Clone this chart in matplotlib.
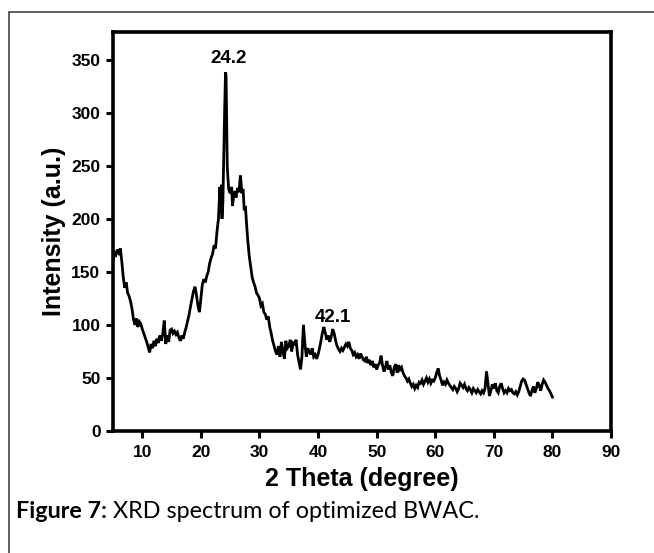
import matplotlib
matplotlib.use("Agg")
import matplotlib.pyplot as plt
from matplotlib.patches import Rectangle

two_theta = [
    5.0, 5.25, 5.5, 5.75, 6.0, 6.25, 6.5, 6.75, 7.0, 7.25, 7.5, 7.75, 8.0, 8.25, 8.5, 8.75,
    9.0, 9.25, 9.5, 9.75, 10.0, 10.25, 10.5, 10.75, 11.0, 11.25, 11.5, 11.75, 12.0, 12.25,
    12.5, 12.75, 13.0, 13.25, 13.5, 13.75, 14.0, 14.25, 14.5, 14.75, 15.0, 15.25, 15.5, 15.75,
    16.0, 16.25, 16.5, 16.75, 17.0, 17.25, 17.5, 17.75, 18.0, 18.25, 18.5, 18.75, 19.0, 19.25,
    19.5, 19.75, 20.0, 20.25, 20.5, 20.75, 21.0, 21.25, 21.5, 21.75, 22.0, 22.25, 22.5, 22.75,
    23.0, 23.25, 23.4, 23.5, 23.6, 23.75, 23.9, 24.05, 24.2, 24.3, 24.4, 24.5, 24.6, 24.75,
    25.0, 25.25, 25.4, 25.6, 25.8, 26.0, 26.25, 26.5, 26.75, 27.0, 27.2, 27.4, 27.6, 27.8,
    28.0, 28.25, 28.5, 28.75, 29.0, 29.25, 29.5, 29.75, 30.0, 30.25, 30.5, 30.75, 31.0, 31.25,
    31.5, 31.75, 32.0, 32.25, 32.5, 32.75, 33.0, 33.25, 33.5, 33.75, 34.0, 34.25, 34.5, 34.75,
    35.0, 35.25, 35.5, 35.75, 36.0, 36.25, 36.5, 36.75, 37.0, 37.25, 37.5, 37.75, 38.0, 38.25,
    38.5, 38.75, 39.0, 39.25, 39.5, 39.75, 40.0, 40.25, 40.5, 40.75, 41.0, 41.25, 41.5, 41.75,
    42.0, 42.25, 42.5, 42.75, 43.0, 43.25, 43.5, 43.75, 44.0, 44.25, 44.5, 44.75, 45.0, 45.25,
    45.5, 45.75, 46.0, 46.25, 46.5, 46.75, 47.0, 47.25, 47.5, 47.75, 48.0, 48.25, 48.5, 48.75,
    49.0, 49.25, 49.5, 49.75, 50.0, 50.25, 50.5, 50.75, 51.0, 51.25, 51.5, 51.75, 52.0, 52.25,
    52.5, 52.75, 53.0, 53.25, 53.5, 53.75, 54.0, 54.25, 54.5, 54.75, 55.0, 55.25, 55.5, 55.75,
    56.0, 56.25, 56.5, 56.75, 57.0, 57.25, 57.5, 57.75, 58.0, 58.25, 58.5, 58.75, 59.0, 59.25,
    59.5, 59.75, 60.0, 60.25, 60.5, 60.75, 61.0, 61.25, 61.5, 61.75, 62.0, 62.25, 62.5, 62.75,
    63.0, 63.25, 63.5, 63.75, 64.0, 64.25, 64.5, 64.75, 65.0, 65.25, 65.5, 65.75, 66.0, 66.25,
    66.5, 66.75, 67.0, 67.25, 67.5, 67.75, 68.0, 68.25, 68.5, 68.75, 69.0, 69.25, 69.5, 69.75,
    70.0, 70.25, 70.5, 70.75, 71.0, 71.25, 71.5, 71.75, 72.0, 72.25, 72.5, 72.75, 73.0, 73.25,
    73.5, 73.75, 74.0, 74.25, 74.5, 74.75, 75.0, 75.25, 75.5, 75.75, 76.0, 76.25, 76.5, 76.75,
    77.0, 77.25, 77.5, 77.75, 78.0, 78.25, 78.5, 78.75, 79.0, 79.25, 79.5, 79.75, 80.0,
]

intensity = [
    160, 168, 166, 171, 168, 172, 160, 145, 135, 140, 130, 127, 122, 115, 105, 100,
    106, 98, 103, 101, 96, 92, 88, 84, 79, 74, 82, 78, 85, 80,
    87, 83, 90, 85, 92, 104, 82, 90, 84, 95, 96, 92, 94, 91,
    93, 88, 85, 90, 87, 93, 98, 104, 110, 118, 125, 132, 136, 128,
    118, 112, 125, 138, 143, 140, 146, 150, 158, 163, 167, 175, 172, 188,
    200, 230, 205, 232, 200, 215, 260, 300, 338, 335, 290, 250, 240, 228,
    224, 230, 212, 222, 226, 220, 229, 225, 241, 224, 228, 208, 212, 195,
    180, 165, 155, 145, 140, 136, 130, 128, 125, 118, 120, 112, 110, 105,
    108, 98, 92, 85, 80, 75, 72, 80, 70, 84, 75, 68, 85, 78,
    80, 86, 75, 83, 82, 86, 72, 65, 58, 70, 100, 82, 70, 78,
    75, 72, 78, 70, 72, 68, 72, 78, 85, 93, 98, 92, 86, 90,
    84, 89, 96, 92, 85, 80, 77, 75, 78, 76, 79, 82, 80, 84,
    78, 76, 72, 74, 70, 72, 68, 73, 70, 67, 66, 70, 64, 67,
    62, 66, 60, 63, 58, 62, 64, 71, 62, 56, 60, 66, 58, 62,
    55, 52, 60, 63, 55, 62, 58, 60, 55, 52, 50, 47, 49, 45,
    42, 44, 40, 43, 41, 46, 45, 48, 44, 47, 50, 46, 49, 45,
    48, 47, 50, 55, 59, 52, 48, 43, 46, 44, 48, 45, 43, 41,
    39, 42, 40, 37, 40, 45, 43, 41, 44, 40, 38, 41, 39, 36,
    40, 38, 36, 39, 37, 35, 38, 36, 40, 56, 45, 33, 38, 44,
    40, 45, 38, 36, 42, 45, 40, 36, 38, 36, 40, 38, 39, 36,
    35, 37, 34, 37, 42, 47, 49, 48, 44, 40, 36, 33, 38, 42,
    36, 40, 46, 43, 38, 44, 48, 46, 43, 40, 38, 35, 32,
]

x_ticks = [10, 20, 30, 40, 50, 60, 70, 80, 90]
y_ticks = [0, 50, 100, 150, 200, 250, 300, 350]
peak_labels = ["24.2", "42.1"]
peak_pos = [(24.7, 347), (42.6, 103)]

plt.rcParams['font.family'] = ['Liberation Sans', 'DejaVu Sans']

fig = plt.figure(figsize=(6.54, 5.53), dpi=100)
fig.patch.set_facecolor('white')

# outer frame of the figure panel
fig.patches.append(Rectangle((8.5 / 654, -0.05), 1.2, (553 - 12.5) / 553 + 0.05,
                             transform=fig.transFigure, fill=False,
                             edgecolor='#333333', linewidth=1.1, clip_on=False))

ax = fig.add_axes([113 / 654, 122 / 553, 498 / 654, 399 / 553])
ax.plot(two_theta, intensity, color='black', linewidth=2.0, solid_joinstyle='miter')

ax.set_xlim(5, 90)
ax.set_ylim(0, 376)
ax.set_xticks(x_ticks)
ax.set_yticks(y_ticks)
for s in ax.spines.values():
    s.set_linewidth(2.6)
ax.tick_params(axis='both', direction='out', length=5, width=2.2, pad=4,
               labelsize=12.5)
ax.tick_params(axis='x', pad=5)
for lab in ax.get_xticklabels() + ax.get_yticklabels():
    lab.set_fontweight('bold')

ax.set_xlabel("2 Theta (degree)", fontsize=18, fontweight='bold', labelpad=5)
ax.set_ylabel("Intensity (a.u.)", fontsize=18, fontweight='bold', labelpad=4)

for txt, (px, py) in zip(peak_labels, peak_pos):
    ax.text(px, py, txt, ha='center', va='baseline', fontsize=13.5, fontweight='bold')

cap1 = fig.text(16 / 654, 1 - 512 / 553, "Figure 7:", fontsize=16.8, fontweight='bold',
                family=['Lato', 'DejaVu Sans'], va='center', ha='left')
ax.annotate(" XRD spectrum of optimized BWAC.", xy=(1, 0.5), xycoords=cap1,
            fontsize=16.8, family=['Lato', 'DejaVu Sans'], va='center', ha='left',
            annotation_clip=False)

fig.savefig("out.png", dpi=100)
